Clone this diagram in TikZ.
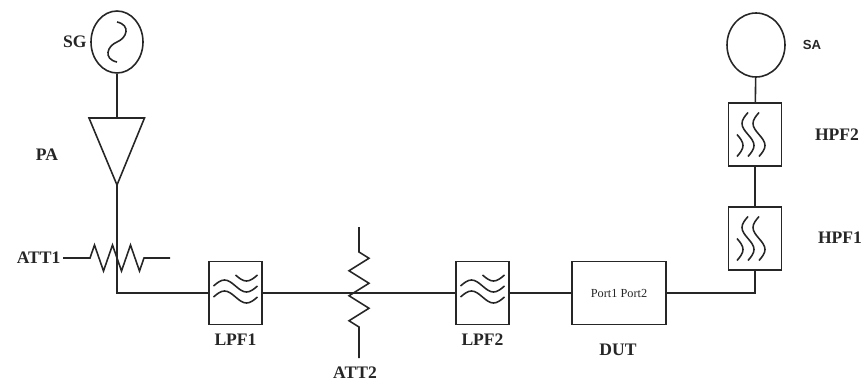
\documentclass[tikz,border=0pt]{standalone}
\usepackage{fontspec}
\setmainfont{Liberation Serif}
\setsansfont{Liberation Sans}
\usetikzlibrary{calc,shapes.geometric}
\tikzset{
  pics/lowpass/.style={code={
      \draw (0,0.36) sin ++(0.22,-0.12) cos ++(0.22,0.12);
      \draw (-0.44,0.14) sin ++(0.22,0.12) cos ++(0.22,-0.12) sin ++(0.22,-0.12) cos ++(0.22,0.12);
      \draw (-0.44,-0.08) sin ++(0.22,0.12) cos ++(0.22,-0.12) sin ++(0.22,-0.12) cos ++(0.22,0.12);
    }}
}
\begin{document}
\begin{tikzpicture}[line width=0.9pt,color=black!85,
    filt/.style={draw,minimum width=1.06cm,minimum height=1.26cm,inner sep=0pt},
    lbl/.style={font=\bfseries,inner sep=1pt}]
              \useasboundingbox (0,0) rectangle (17.26,7.64);
              \node[draw,ellipse,minimum width=1.04cm,minimum height=1.24cm](sg)at(2.34,6.80){};
              \draw[shift={(sg.center)}] (0,0.4) .. controls (0.28,0.34) and (0.2,0.08) .. (0,0)
                    .. controls (-0.2,-0.08) and (-0.28,-0.34) .. (0,-0.4);
              \node[lbl,anchor=east](sglbl)at(1.78,6.80){SG};
              \coordinate (patop) at (2.34,5.28);
              \coordinate (patip) at (2.34,3.94);
              \draw (patop) ++(-0.56,0) -- ++(1.11,0) -- (patip) -- cycle;
              \draw (sg) -- (patop);
              \node[lbl](palbl)at(0.94,4.54){PA};
              \node[filt](lpf1)at(4.71,1.78){};
              \pic at (lpf1) {lowpass};
              \node[lbl](lpf1lbl)at(4.71,0.84){LPF1};
              \draw (patip) |- (lpf1);
              \coordinate (att1) at (1.26,2.48);
              \draw (att1) -- ++(0.54,0) -- ++(0.09,0.26) -- ++(0.18,-0.52) -- ++(0.18,0.52) -- ++(0.18,-0.52)
                    -- ++(0.18,0.52) -- ++(0.18,-0.52) -- ++(0.09,0.26) -- (3.40,2.48);
              \node[lbl,anchor=east](att1lbl)at(att1){ATT1};
              \node[filt](lpf2)at(9.65,1.78){};
              \pic at (lpf2) {lowpass};
              \node[lbl](lpf2lbl)at(9.65,0.84){LPF2};
              \draw (lpf1) -- (lpf2);
              \coordinate (att2) at (7.18,3.10);
              \draw (att2) -- (7.18,2.60) -- ++(0.2,-0.125) -- ++(-0.4,-0.25) -- ++(0.4,-0.25) -- ++(-0.4,-0.25)
                    -- ++(0.4,-0.25) -- ++(-0.4,-0.25) -- ++(0.2,-0.125) -- (7.18,0.48);
              \node[lbl](att2lbl)at(7.10,0.18){ATT2};
              \node[draw,minimum width=1.88cm,minimum height=1.26cm,font=\fontsize{7}{8}\selectfont](dut)at(12.38,1.78){Port1 Port2};
              \node[lbl](dutlbl)at(12.36,0.64){DUT};
              \draw (lpf2) -- (dut);
              \node[filt](hpf1)at(15.10,2.87){};
              \pic[cm={0,-1,-1,0,(hpf1.center)}] {lowpass};
              \node[lbl](hpf1lbl)at(16.80,2.88){HPF1};
              \draw (dut) -| (hpf1);
              \node[filt](hpf2)at(15.10,4.95){};
              \pic[cm={0,-1,-1,0,(hpf2.center)}] {lowpass};
              \node[lbl](hpf2lbl)at(16.74,4.94){HPF2};
              \draw (hpf1) -- (hpf2);
              \node[draw,ellipse,minimum width=1.16cm,minimum height=1.28cm](sa)at(15.12,6.74){};
              \node[lbl,font=\sffamily\bfseries\fontsize{7.5}{9}\selectfont](salbl)at(16.24,6.74){SA};
              \draw (hpf2) -- (sa);
            \end{tikzpicture}
\end{document}
